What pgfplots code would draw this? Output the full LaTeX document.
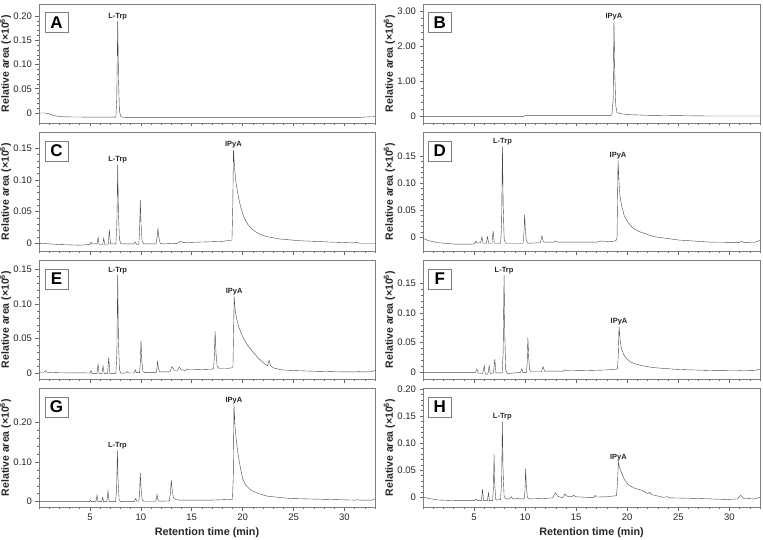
\documentclass[border=0pt]{standalone}
\usepackage{fontspec}
\setmainfont{Liberation Sans}
\usepackage{pgfplots}
\pgfplotsset{compat=1.18}
\definecolor{trace}{gray}{0.28}
\definecolor{frame}{gray}{0.5}
\tikzset{
  peaklab/.style={anchor=south, inner sep=1pt, font=\fontsize{7.5}{8}\selectfont\bfseries, text=black!85},
  letterbox/.style={draw=frame, fill=white, line width=0.6pt, minimum width=23pt, minimum height=20pt, inner sep=0pt, font=\fontsize{17}{17}\selectfont\bfseries},
}
\pgfplotsset{
  chrom/.style={
    width=336pt, height=119pt, scale only axis,
    xmin=0, xmax=33,
    xtick={5,10,15,20,25,30}, xticklabels={},
    minor xtick={0,1,...,33},
    minor y tick num=4,
    tick align=outside, tick pos=left,
    major tick length=3.5pt, minor tick length=2pt,
    axis line style={draw=frame, line width=0.6pt},
    tick style={draw=black!60, line width=0.5pt},
    /pgf/number format/assume math mode=true,
    yticklabel style={font=\fontsize{9.5}{10}\selectfont, text=black!85},
    xticklabel style={font=\fontsize{9.5}{10}\selectfont, text=black!85},
    ylabel={\textbf{Relative area (×10\textsuperscript{6})}},
    ylabel style={at={(axis description cs:-0.1,0.5)}, anchor=center, font=\fontsize{10.5}{11}\selectfont, text=black!85},
    xlabel style={at={(axis description cs:0.5,-0.218)}, anchor=center, font=\fontsize{10.8}{11}\selectfont, text=black!85},
    clip mode=individual,
    cycle list={{draw=trace, line width=0.6pt, mark=none}},
  },
}
\begin{document}
\begin{tikzpicture}
\useasboundingbox (0,0) rectangle (763pt,539pt);
% ---------------- A
\begin{axis}[chrom, at={(39pt,416pt)}, ymin=-0.0206, ymax=0.2247,
  ytick={0,0.05,0.1,0.15,0.2}, yticklabels={0,0.05,0.10,0.15,0.20}]
\addplot coordinates {(0,0.000) (0.6,0.000) (1.0,-0.002) (1.6,-0.006) (2.5,-0.008) (5.0,-0.0085) (7.55,-0.0085) (7.64,0.03) (7.73,0.19) (7.81,0.07) (7.9,0.004) (8.05,-0.008) (8.5,-0.009) (15,-0.009) (25,-0.009) (31.5,-0.009) (32.3,-0.008) (33,-0.0075)};
\node[peaklab] at (axis cs:7.73,0.19) {L-Trp};
\node[letterbox] at (rel axis cs:0.052,0.845) {A};
\end{axis}
% ---------------- B
\begin{axis}[chrom, at={(423pt,416pt)}, width=337pt, ymin=-0.18, ymax=3.22,
  ytick={0,1,2,3}, yticklabels={0,1.00,2.00,3.00}]
\addplot coordinates {(0,0.0) (5.4,0.0) (5.5,0.015) (5.7,0.0) (9.8,0.0) (10.0,0.03) (18.3,0.03) (18.5,0.06) (18.62,0.5) (18.7,2.74) (18.78,1.2) (18.88,0.3) (19.0,0.12) (19.3,0.09) (20,0.06) (22,0.04) (25,0.03) (28,0.02) (33,0.02)};
\node[peaklab] at (axis cs:18.7,2.74) {IPyA};
\node[letterbox] at (rel axis cs:0.05,0.845) {B};
\end{axis}
% ---------------- C
\begin{axis}[chrom, at={(39pt,288pt)}, ymin=-0.0122, ymax=0.1757,
  ytick={0,0.05,0.1,0.15}, yticklabels={0,0.05,0.10,0.15}]
\addplot coordinates {(0,0.0) (2,-0.002) (4,-0.003) (5.0,-0.002) (5.11,0.002) (5.2,-0.001) (5.7,-0.001) (5.8,0.0095) (5.9,-0.002) (6.25,-0.002) (6.36,0.008) (6.46,-0.002) (6.8,-0.002) (6.91,0.021) (7.02,-0.001) (7.55,-0.001) (7.65,0.03) (7.73,0.124) (7.8,0.05) (7.9,0.006) (8.05,-0.001) (9.3,-0.001) (9.46,0.002) (9.6,-0.002) (9.8,-0.002) (9.88,0.02) (9.95,0.068) (10.02,0.03) (10.12,0.004) (10.3,-0.001) (11.5,-0.001) (11.6,0.01) (11.68,0.024) (11.76,0.01) (11.9,0.0) (12.1,-0.001) (13.6,0.0) (13.87,0.003) (14.2,0.001) (16,0.002) (18,0.003) (18.95,0.005) (19.02,0.05) (19.1,0.148) (19.2,0.12) (19.35,0.095) (19.6,0.072) (19.85,0.055) (20.1,0.042) (20.5,0.03) (21.0,0.021) (21.7,0.014) (22.4,0.0105) (23.5,0.007) (25.6,0.004) (28.5,0.002) (31,0.0005) (31.25,0.002) (31.4,0.0) (33,0.0)};
\node[peaklab] at (axis cs:7.73,0.124) {L-Trp};
\node[peaklab] at (axis cs:19.1,0.148) {IPyA};
\node[letterbox] at (rel axis cs:0.052,0.84) {C};
\end{axis}
% ---------------- D
\begin{axis}[chrom, at={(423pt,288pt)}, width=337pt, ymin=-0.0253, ymax=0.1943,
  ytick={0,0.05,0.1,0.15}, yticklabels={0,0.05,0.10,0.15}]
\addplot coordinates {(0,-0.002) (0.5,-0.006) (1.5,-0.01) (3,-0.0125) (4.8,-0.0125) (5.05,-0.012) (5.18,-0.007) (5.3,-0.011) (5.65,-0.01) (5.77,0.001) (5.88,-0.011) (6.2,-0.011) (6.32,0.001) (6.43,-0.011) (6.75,-0.011) (6.87,0.012) (6.98,-0.011) (7.6,-0.011) (7.7,0.03) (7.78,0.168) (7.85,0.06) (7.95,-0.004) (8.1,-0.011) (9.8,-0.011) (9.88,0.005) (9.95,0.042) (10.02,0.015) (10.12,-0.006) (10.3,-0.011) (11.5,-0.01) (11.64,0.0025) (11.78,-0.008) (12,-0.009) (12.8,-0.009) (12.97,-0.007) (13.15,-0.009) (15,-0.009) (17,-0.009) (17.5,-0.007) (18.5,-0.008) (18.9,-0.006) (19.0,0.0) (19.1,0.142) (19.2,0.1) (19.3,0.075) (19.45,0.058) (19.7,0.04) (20.1,0.027) (20.5,0.018) (21.1,0.011) (22,0.005) (22.7,0.001) (25,-0.005) (28.2,-0.009) (31,-0.0095) (31.2,-0.007) (31.4,-0.0095) (32.5,-0.009) (33,-0.006)};
\node[peaklab] at (axis cs:7.78,0.168) {L-Trp};
\node[peaklab] at (axis cs:19.1,0.142) {IPyA};
\node[letterbox] at (rel axis cs:0.05,0.84) {D};
\end{axis}
% ---------------- E
\begin{axis}[chrom, at={(39pt,160pt)}, ymin=-0.0082, ymax=0.1635,
  ytick={0,0.05,0.1,0.15}, yticklabels={0,0.05,0.10,0.15}]
\addplot coordinates {(0,0.0015) (0.5,0.0015) (0.64,0.004) (0.8,0.0015) (2,0.0008) (4.9,0.0005) (5.0,0.0) (5.11,0.004) (5.22,0.0) (5.7,0.0) (5.8,0.013) (5.9,0.0) (6.18,0.0) (6.29,0.0106) (6.4,0.0) (6.74,0.0) (6.85,0.023) (6.96,0.0) (7.55,0.0) (7.65,0.03) (7.73,0.142) (7.8,0.05) (7.9,0.005) (8.05,0.0) (8.5,0.0005) (8.64,0.0025) (8.8,0.0005) (9.35,0.0005) (9.46,0.005) (9.58,0.001) (9.88,0.001) (9.95,0.015) (10.02,0.048) (10.09,0.02) (10.2,0.003) (10.35,0.001) (11.5,0.001) (11.58,0.007) (11.65,0.018) (11.73,0.007) (11.85,0.002) (12.85,0.002) (13.06,0.0096) (13.3,0.004) (13.6,0.004) (13.77,0.009) (14.0,0.005) (14.35,0.004) (14.53,0.0063) (14.7,0.005) (16,0.0055) (17.0,0.006) (17.15,0.007) (17.22,0.025) (17.3,0.0606) (17.38,0.03) (17.5,0.01) (17.7,0.007) (18.5,0.007) (18.95,0.008) (19.05,0.01) (19.17,0.1106) (19.27,0.09) (19.4,0.08) (19.6,0.068) (19.85,0.058) (20.1,0.05) (20.5,0.04) (21.0,0.031) (21.6,0.021) (22.2,0.013) (22.45,0.011) (22.6,0.019) (22.75,0.011) (23.0,0.008) (23.8,0.005) (25,0.004) (27,0.003) (30,0.002) (31.3,0.002) (31.4,0.003) (31.5,0.002) (32.5,0.002) (33,0.004)};
\node[peaklab] at (axis cs:7.73,0.142) {L-Trp};
\node[peaklab] at (axis cs:19.17,0.1106) {IPyA};
\node[letterbox] at (rel axis cs:0.052,0.84) {E};
\end{axis}
% ---------------- F
\begin{axis}[chrom, at={(423pt,160pt)}, width=337pt, ymin=-0.0113, ymax=0.1894,
  ytick={0,0.05,0.1,0.15}, yticklabels={0,0.05,0.10,0.15}]
\addplot coordinates {(0,0.0) (4.9,0.0) (5.15,0.0) (5.28,0.0056) (5.4,-0.001) (5.85,-0.002) (6.0,0.011) (6.1,-0.003) (6.35,-0.003) (6.48,0.011) (6.58,-0.002) (6.9,-0.001) (7.03,0.022) (7.14,-0.001) (7.75,-0.001) (7.85,0.035) (7.94,0.164) (8.01,0.06) (8.1,0.004) (8.25,-0.002) (9.0,-0.001) (9.55,0.0) (9.66,0.0056) (9.78,0.0) (10.12,0.0) (10.2,0.015) (10.27,0.059) (10.35,0.025) (10.45,0.004) (10.6,0.001) (11.6,0.001) (11.76,0.0096) (11.9,0.002) (13.7,0.002) (13.93,0.004) (14.2,0.0025) (16,0.003) (18,0.004) (19.05,0.0056) (19.12,0.03) (19.2,0.077) (19.3,0.055) (19.43,0.04) (19.65,0.03) (19.9,0.024) (20.24,0.018) (20.8,0.014) (21.5,0.011) (22.5,0.008) (24.8,0.005) (28.1,0.003) (30.9,0.0025) (31.1,0.004) (31.3,0.0025) (32.5,0.003) (33,0.0056)};
\node[peaklab] at (axis cs:7.94,0.164) {L-Trp};
\node[peaklab] at (axis cs:19.2,0.077) {IPyA};
\node[letterbox] at (rel axis cs:0.05,0.84) {F};
\end{axis}
% ---------------- G
\begin{axis}[chrom, at={(39pt,32pt)}, ymin=-0.0134, ymax=0.2864,
  ytick={0,0.1,0.2}, yticklabels={0,0.10,0.20},
  xticklabels={5,10,15,20,25,30}, xlabel={\textbf{Retention time (min)}}]
\addplot coordinates {(0,0.0) (4.95,0.0) (5.05,0.004) (5.15,0.0) (5.6,0.0) (5.7,0.0167) (5.8,0.0) (6.15,0.0) (6.25,0.011) (6.35,0.0) (6.67,0.0) (6.78,0.027) (6.89,0.0) (7.52,0.0) (7.62,0.03) (7.7,0.129) (7.77,0.05) (7.87,0.005) (8.0,0.0) (8.5,0.0) (8.64,0.0015) (8.8,0.0) (9.35,0.0) (9.49,0.008) (9.62,0.001) (9.8,0.001) (9.88,0.02) (9.95,0.0725) (10.03,0.03) (10.13,0.005) (10.3,0.001) (11.45,0.001) (11.52,0.006) (11.59,0.018) (11.67,0.006) (11.8,0.001) (12.8,0.002) (12.9,0.02) (12.99,0.054) (13.08,0.03) (13.2,0.01) (13.4,0.006) (13.7,0.004) (15,0.004) (17,0.004) (19.0,0.006) (19.08,0.06) (19.15,0.244) (19.25,0.19) (19.4,0.15) (19.55,0.12) (19.75,0.09) (20.0,0.058) (20.3,0.042) (20.8,0.029) (21.5,0.021) (22.4,0.014) (23.5,0.011) (24.7,0.008) (27.9,0.006) (31,0.004) (31.3,0.005) (31.5,0.004) (32.7,0.004) (33,0.007)};
\node[peaklab] at (axis cs:7.7,0.129) {L-Trp};
\node[peaklab] at (axis cs:19.15,0.244) {IPyA};
\node[letterbox] at (rel axis cs:0.052,0.84) {G};
\end{axis}
% ---------------- H
\begin{axis}[chrom, at={(423pt,32pt)}, width=337pt, ymin=-0.0179, ymax=0.2017,
  ytick={0,0.05,0.1,0.15,0.2}, yticklabels={0,0.05,0.10,0.15,0.20},
  xticklabels={5,10,15,20,25,30}, xlabel={\textbf{Retention time (min)}}]
\addplot coordinates {(0,0.001) (0.5,-0.002) (1.5,-0.005) (3,-0.006) (4.9,-0.006) (5.05,-0.006) (5.18,-0.003) (5.3,-0.006) (5.72,-0.006) (5.83,0.015) (5.93,-0.006) (6.3,-0.006) (6.41,0.0085) (6.5,-0.006) (6.82,-0.006) (6.9,0.02) (6.96,0.079) (7.02,0.025) (7.12,-0.004) (7.25,-0.005) (7.6,-0.004) (7.7,0.03) (7.77,0.14) (7.84,0.05) (7.94,0.002) (8.1,-0.003) (8.5,-0.003) (8.65,0.001) (8.8,-0.003) (9.15,-0.003) (9.3,-0.001) (9.45,-0.003) (9.9,-0.003) (9.98,0.01) (10.05,0.053) (10.12,0.02) (10.22,0.0) (10.4,-0.003) (12,-0.002) (12.7,-0.001) (12.97,0.0085) (13.2,0.002) (13.5,0.0) (13.7,0.0) (13.88,0.006) (14.1,0.002) (14.55,0.001) (14.75,0.0037) (14.95,0.001) (16,0.0) (16.75,0.0) (16.86,0.0037) (16.98,0.0005) (18,0.001) (18.95,0.003) (19.05,0.03) (19.13,0.065) (19.25,0.055) (19.46,0.044) (19.75,0.032) (20.1,0.023) (20.7,0.017) (21.4,0.013) (22.0,0.007) (22.2,0.009) (22.4,0.005) (23.5,0.0) (23.95,0.001) (24.2,-0.001) (26.6,-0.002) (29.8,-0.004) (30.8,-0.003) (31.1,0.0037) (31.4,-0.002) (32.5,-0.003) (33,0.0)};
\node[peaklab] at (axis cs:7.77,0.14) {L-Trp};
\node[peaklab] at (axis cs:19.13,0.065) {IPyA};
\node[letterbox] at (rel axis cs:0.05,0.84) {H};
\end{axis}
\end{tikzpicture}
\end{document}
